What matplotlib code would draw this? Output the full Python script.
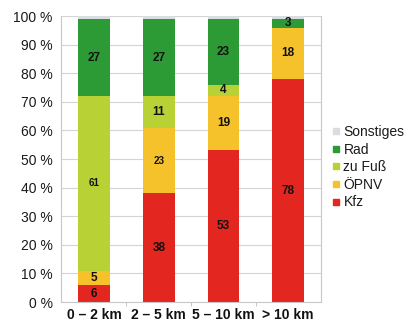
import matplotlib
matplotlib.use("Agg")
import matplotlib.pyplot as plt
from matplotlib.lines import Line2D
import numpy as np

plt.rcParams['font.family'] = ['Liberation Sans', 'DejaVu Sans']

categories = ["0 – 2 km", "2 – 5 km", "5 – 10 km", "> 10 km"]
series_names = ["Kfz", "ÖPNV", "zu Fuß", "Rad", "Sonstiges"]
kfz = [6, 38, 53, 78]
oepnv = [5, 23, 19, 18]
zu_fuss = [61, 11, 4, 0]
rad = [27, 27, 23, 3]
sonstiges = [1, 1, 1, 1]
colors = ["#e3261f", "#f6c22b", "#b8d235", "#2c9a35", "#d9dde2"]
y_ticks = list(range(0, 101, 10))

series = [kfz, oepnv, zu_fuss, rad, sonstiges]
# a couple of labels are printed in a smaller size
small_labels = {("zu Fuß", 0), ("ÖPNV", 1)}

fig = plt.figure(figsize=(4.05, 3.28), dpi=100)
ax = fig.add_axes([0.151, 0.079, 0.642, 0.872])

x = np.arange(len(categories))
bottom = np.zeros(len(categories))
for name, vals, col in zip(series_names, series, colors):
    vals = np.array(vals, dtype=float)
    ax.bar(x, vals, bottom=bottom, width=0.49, color=col, zorder=2)
    if name != "Sonstiges":
        for i, (xi, b, v) in enumerate(zip(x, bottom, vals)):
            if v > 0:
                fs = 7 if (name, i) in small_labels else 8.5
                ax.text(xi, b + v / 2, f"{int(v)}", ha="center", va="center",
                        fontsize=fs, fontweight="bold", color="#111111", zorder=3)
    bottom += vals

ax.set_xlim(-0.51, 3.51)
ax.set_ylim(0, 100)
ax.set_yticks(y_ticks)
ax.set_yticklabels([f"{t} %" for t in y_ticks], fontsize=10, color="#1a1a1a")
ax.set_xticks(x)
ax.set_xticklabels(categories, fontsize=10, fontweight="bold", color="#111111")
ax.set_xticks([0.5, 1.5, 2.5], minor=True)
ax.tick_params(axis="x", which="major", length=0, pad=4)
ax.tick_params(axis="x", which="minor", length=3, color="#bbbbbb")
ax.tick_params(axis="y", length=0, pad=6)

ax.yaxis.grid(True, color="#d4d4d4", linewidth=0.8, zorder=0)
ax.set_axisbelow(True)
for side in ["left", "right", "bottom"]:
    ax.spines[side].set_color("#c8c8c8")
    ax.spines[side].set_linewidth(0.8)
ax.spines["top"].set_visible(False)

handles = [Line2D([0], [0], marker="s", linestyle="none", markersize=4.5,
                  markerfacecolor=c, markeredgecolor=c)
           for c in colors[::-1]]
fig.legend(handles, series_names[::-1], loc="upper left",
           bbox_to_anchor=(0.805, 0.64), frameon=False, fontsize=10,
           handlelength=0.5, handletextpad=0.25, labelspacing=0.26,
           borderpad=0, labelcolor="#1a1a1a")

fig.savefig("out.png", dpi=100)
